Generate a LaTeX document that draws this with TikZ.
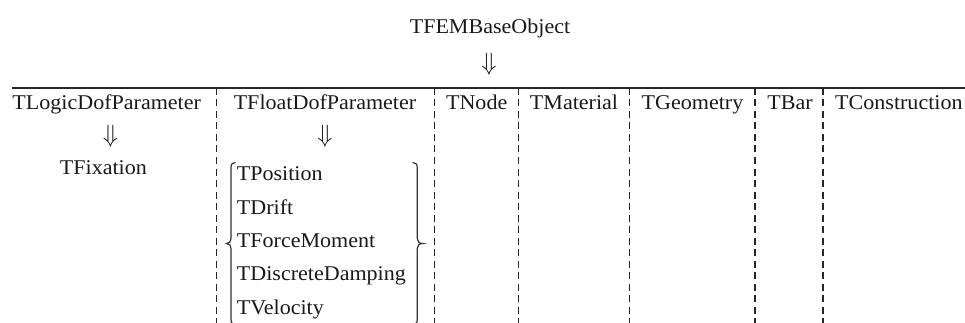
\RequirePackage{fix-cm}
\documentclass[tikz,border=0pt]{standalone}
\usepackage{fontspec}
\setmainfont{Liberation Serif}[FakeStretch=1.05]
\begin{document}
\begin{tikzpicture}[x=1pt,y=-1pt,
  every node/.style={font=\fontsize{21}{25}\selectfont, inner sep=0pt, text=black!90},
  lbl/.style={anchor=base},
  item/.style={anchor=base west},
  dn/.style={anchor=center, font=\fontsize{25}{29}\selectfont},
  sepline/.style={line width=1.4pt, dash pattern=on 7pt off 4.5pt, black!85},
  rule/.style={line width=1.4pt, black!85},
  brc/.style={line width=1.2pt, black!80}]
\useasboundingbox (0,0) rectangle (965,323);
% top
\node[lbl] (base) at (490,33.3) {TFEMBaseObject};
\node[dn] (a0) at (489,64) {$\Downarrow$};
\coordinate (rl) at (12,88);
\coordinate (rr) at (965,88);
\draw[rule] (rl) -- (rr);
% separators
\foreach \i/\x in {1/216.7,2/434.5,3/518.3,4/629.7,5/755,6/822.8}{
  \coordinate (s\i t) at (\x,88);
  \coordinate (s\i b) at (\x,323);
  \draw[sepline] (s\i t) -- (s\i b);
}
% headers
\node[lbl] (h1) at (106.7,110) {TLogicDofParameter};
\node[lbl] (h2) at (325,110) {TFloatDofParameter};
\node[lbl] (h3) at (476.7,110) {TNode};
\node[lbl] (h4) at (574,110) {TMaterial};
\node[lbl] (h5) at (692.5,110) {TGeometry};
\node[lbl] (h6) at (790,110) {TBar};
\node[lbl,anchor=base west] (h7) at (835,110) {TConstruction};
% arrows
\node[dn] (a1) at (110.5,136.5) {$\Downarrow$};
\node[dn] (a2) at (325,136.5) {$\Downarrow$};
% children
\node[lbl] (fix) at (103.4,175) {TFixation};
\node[item] (c1) at (236.7,180.7) {TPosition};
\node[item] (c2) at (236.7,214) {TDrift};
\node[item] (c3) at (236.7,247.3) {TForceMoment};
\node[item] (c4) at (236.7,280.7) {TDiscreteDamping};
\node[item] (c5) at (236.7,314) {TVelocity};
% braces
\draw[brc] (235.5,162.5) .. controls (232.5,162.5) and (231,164) .. (231,167.5)
  -- (231,238.5) .. controls (231,241.5) and (229.5,243.5) .. (226.5,243.5)
  .. controls (229.5,243.5) and (231,245.5) .. (231,248.5)
  -- (231,319.5) .. controls (231,323) and (232.5,324.5) .. (235.5,324.5);
\draw[brc] (412.5,162.5) .. controls (415.5,162.5) and (417.3,164) .. (417.3,167.5)
  -- (417.3,238.5) .. controls (417.3,241.5) and (419,243.5) .. (422.7,243.5)
  .. controls (419,243.5) and (417.3,245.5) .. (417.3,248.5)
  -- (417.3,319.5) .. controls (417.3,323) and (415.5,324.5) .. (412.5,324.5);
\end{tikzpicture}
\end{document}
